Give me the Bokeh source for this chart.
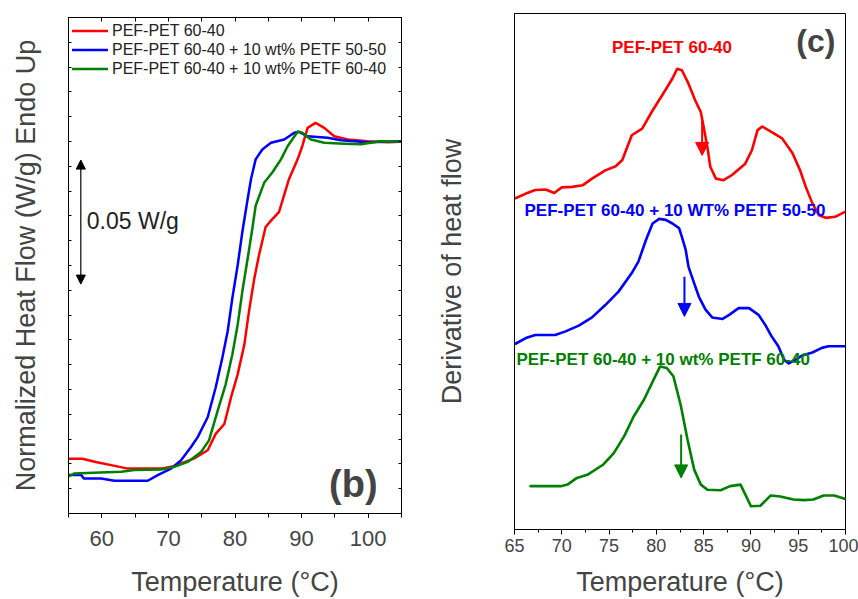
from bokeh.plotting import figure
from bokeh.models import (Range1d, LinearAxis, SingleIntervalTicker, FixedTicker,
                          Arrow, NormalHead, Label)
from bokeh.layouts import row, column
from bokeh.embed import file_html
from bokeh.resources import INLINE

FONT = "Liberation Sans"

# ---------------- Panel (b): normalized heat flow ----------------
b_names = ["PEF-PET 60-40",
           "PEF-PET 60-40 + 10 wt% PETF 50-50",
           "PEF-PET 60-40 + 10 wt% PETF 60-40"]

b_T_red = [55.1, 57.1, 59.1, 61.4, 63.9, 68.9, 70.8, 73.8, 75.9, 77.1, 78.4,
           79.4, 80.4, 81.4, 82.1, 82.9, 83.6, 84.6, 85.4, 86.6, 86.9, 88.1,
           89.4, 90.1, 90.9, 92.1, 93.4, 94.9, 96.9, 99.9, 102.9, 104.9]
b_y_red = [0.0221, 0.0221, 0.0208, 0.0195, 0.0181, 0.0181, 0.0191, 0.0221,
           0.0255, 0.0321, 0.0361, 0.0468, 0.0561, 0.0681, 0.0815, 0.0948,
           0.1041, 0.1155, 0.1181, 0.1215, 0.1241, 0.1348, 0.1428, 0.1481,
           0.1555, 0.1575, 0.1555, 0.1521, 0.1508, 0.1501, 0.1497, 0.1499]

b_T_blue = [55.1, 56.9, 57.3, 59.9, 61.9, 66.9, 68.4, 70.4, 71.9, 73.4, 74.4,
            75.9, 77.1, 78.1, 78.9, 79.6, 80.4, 81.1, 81.9, 82.4, 83.1, 84.1,
            85.4, 87.4, 88.9, 89.6, 90.9, 93.9, 95.9, 99.9, 104.9]
b_y_blue = [0.0155, 0.0155, 0.0141, 0.0141, 0.0132, 0.0132, 0.0155, 0.0181,
            0.0215, 0.0268, 0.0308, 0.0388, 0.0508, 0.0628, 0.0735, 0.0868,
            0.1001, 0.1135, 0.1268, 0.1348, 0.1428, 0.1468, 0.1495, 0.1508,
            0.1535, 0.1539, 0.1521, 0.1515, 0.1505, 0.1497, 0.1501]

b_T_green = [55.1, 55.8, 58.8, 62.9, 64.9, 68.9, 70.9, 72.9, 74.9, 76.1, 77.4,
             78.6, 79.6, 80.4, 81.1, 81.9, 82.6, 83.1, 84.4, 85.6, 86.9, 87.9,
             89.4, 90.1, 91.4, 93.4, 96.4, 98.9, 101.9, 104.9]
b_y_green = [0.0151, 0.0161, 0.0164, 0.0168, 0.0175, 0.0177, 0.0188, 0.0208,
             0.0248, 0.0295, 0.0415, 0.0521, 0.0641, 0.0761, 0.0895, 0.1028,
             0.1148, 0.1241, 0.1335, 0.1375, 0.1428, 0.1481, 0.1539, 0.1535,
             0.1508, 0.1495, 0.1491, 0.1489, 0.1501, 0.1499]

b_scale_T = 56.85
b_scale_y = [0.0925, 0.1425]   # 0.05 W/g scale bar

# ---------------- Panel (c): derivative of heat flow ----------------
c_names = ["PEF-PET 60-40",
           "PEF-PET 60-40 + 10 WT% PETF 50-50",
           "PEF-PET 60-40 + 10 wt% PETF 60-40"]

c_T_red = [65.1, 66.2, 67.2, 68.3, 69.2, 70.0, 71.1, 72.2, 73.2, 74.6, 75.7,
           76.4, 77.4, 78.5, 79.6, 80.6, 81.7, 82.2, 82.7, 83.4, 84.1, 84.7,
           85.0, 85.4, 85.7, 86.3, 87.1, 88.0, 89.4, 90.1, 90.7, 91.2, 92.2,
           93.3, 94.4, 95.2, 95.8, 96.5, 97.2, 97.9, 98.9, 100.0]
c_y_red = [64.2, 65.1, 65.8, 65.9, 65.2, 66.3, 66.4, 66.7, 68.0, 69.6, 70.4,
           71.6, 76.4, 77.7, 81.2, 84.1, 87.4, 89.3, 89.0, 86.4, 83.2, 80.9,
           78.0, 74.1, 70.3, 68.0, 67.7, 68.7, 70.9, 73.5, 77.4, 78.1, 77.0,
           75.8, 72.9, 69.6, 66.4, 63.2, 60.9, 60.4, 60.6, 61.6]

c_T_blue = [65.1, 66.2, 67.2, 69.3, 70.4, 71.8, 73.2, 74.6, 76.0, 77.4, 78.1,
            78.9, 79.6, 80.3, 81.0, 81.7, 82.4, 82.7, 83.1, 83.4, 84.0, 84.5,
            85.2, 85.9, 87.0, 87.7, 88.7, 89.8, 90.8, 91.5, 92.2, 92.9, 93.5,
            94.0, 94.7, 95.4, 96.5, 97.5, 98.2, 100.0]
c_y_blue = [36.0, 37.1, 37.7, 37.7, 38.4, 39.5, 41.1, 43.5, 46.1, 49.7, 51.9,
            56.1, 59.3, 60.2, 60.0, 59.3, 58.4, 56.7, 54.2, 50.9, 47.7, 45.1,
            42.6, 41.1, 40.8, 41.6, 42.9, 42.9, 41.6, 39.7, 37.4, 35.5, 32.9,
            32.2, 32.9, 33.7, 34.3, 35.2, 35.5, 35.5]

c_T_green = [66.7, 69.9, 70.6, 71.6, 72.7, 74.4, 75.5, 76.6, 77.6, 78.7, 79.7,
             80.4, 81.1, 81.8, 82.6, 83.3, 84.0, 84.7, 85.4, 86.8, 87.8, 88.9,
             89.4, 90.0, 91.0, 92.1, 93.1, 94.5, 95.6, 96.6, 97.7, 98.8, 100.0]
c_y_green = [8.4, 8.4, 8.7, 10.0, 10.6, 12.6, 14.8, 18.1, 21.9, 25.2, 29.0,
             31.6, 31.3, 29.7, 23.9, 17.4, 11.6, 8.7, 7.7, 7.6, 8.4, 8.7, 6.8,
             4.5, 4.6, 6.6, 6.4, 5.8, 5.7, 5.8, 6.6, 6.6, 5.9]

# Tg arrows (x, y_start, y_end)
c_arrow_T = [84.84, 82.97, 82.62]
c_arrow_y0 = [79.3, 49.0, 18.4]
c_arrow_y1 = [72.5, 41.3, 10.0]

COLORS = ["#ff0000", "#0000ff", "#008000"]

# ================= Figure (b) =================
p1 = figure(width=430, height=599, x_range=Range1d(55, 105),
            y_range=Range1d(0, 0.2), output_backend="svg",
            toolbar_location=None, min_border_left=68, min_border_right=29,
            min_border_top=17, min_border_bottom=82)
p1.xgrid.visible = False
p1.ygrid.visible = False
p1.outline_line_color = "black"
p1.background_fill_color = "white"
p1.border_fill_color = "white"

xa = p1.xaxis[0]
xa.ticker = SingleIntervalTicker(interval=10, num_minor_ticks=2)
xa.major_tick_in = 0
xa.major_tick_out = 4
xa.minor_tick_in = 0
xa.minor_tick_out = 4
xa.major_label_text_font = FONT
xa.major_label_text_font_size = "22px"
xa.major_label_standoff = 13
xa.axis_label = "Temperature (°C)"
xa.axis_label_text_font = FONT
xa.axis_label_text_font_size = "27px"
xa.axis_label_text_font_style = "normal"
xa.axis_label_standoff = 18

ya = p1.yaxis[0]
ya.ticker = FixedTicker(ticks=[], minor_ticks=[i / 100 for i in range(21)])
ya.minor_tick_in = 3
ya.minor_tick_out = 0
ya.axis_label = "Normalized Heat Flow (W/g) Endo Up"
ya.axis_label_text_font = FONT
ya.axis_label_text_font_size = "27px"
ya.axis_label_text_font_style = "normal"
ya.axis_label_standoff = 28

top_ax = LinearAxis(ticker=FixedTicker(ticks=[], minor_ticks=list(range(55, 106, 5))),
                    minor_tick_in=4, minor_tick_out=0)
p1.add_layout(top_ax, "above")
right_ax = LinearAxis(ticker=FixedTicker(ticks=[], minor_ticks=[i / 100 for i in range(21)]),
                      minor_tick_in=3, minor_tick_out=0)
p1.add_layout(right_ax, "right")

for T, y, c, n in [(b_T_red, b_y_red, COLORS[0], b_names[0]),
                   (b_T_blue, b_y_blue, COLORS[1], b_names[1]),
                   (b_T_green, b_y_green, COLORS[2], b_names[2])]:
    p1.line(T, y, line_color=c, line_width=2.5, line_join="round",
            line_cap="round", legend_label=n)

lg = p1.legend[0]
lg.location = "top_left"
lg.margin = 4
lg.padding = 3
lg.spacing = 0
lg.glyph_width = 36
lg.glyph_height = 19
lg.label_height = 19
lg.label_standoff = 4
lg.label_text_font = FONT
lg.label_text_font_size = "16px"
lg.label_text_color = "#222222"
lg.border_line_color = None
lg.background_fill_alpha = 0

p1.add_layout(Arrow(x_start=b_scale_T, y_start=b_scale_y[0],
                    x_end=b_scale_T, y_end=b_scale_y[1], line_width=1.2,
                    start=NormalHead(size=9, fill_color="black", line_color="black"),
                    end=NormalHead(size=9, fill_color="black", line_color="black")))
p1.add_layout(Label(x=57.75, y=0.118, text="0.05 W/g", text_font=FONT,
                    text_font_size="23px", text_align="left",
                    text_baseline="middle", text_color="#222222"))
p1.add_layout(Label(x=97.76, y=0.012, text="(b)", text_font=FONT,
                    text_font_size="38px", text_font_style="bold",
                    text_align="center", text_baseline="middle"))

# ================= Figure (c) =================
p2 = figure(width=428, height=599, x_range=Range1d(65, 100),
            y_range=Range1d(0, 100), output_backend="svg",
            toolbar_location=None, min_border_left=84, min_border_right=13,
            min_border_top=13, min_border_bottom=69)
p2.xgrid.visible = False
p2.ygrid.visible = False
p2.outline_line_color = "black"
p2.background_fill_color = "white"
p2.border_fill_color = "white"

xb = p2.xaxis[0]
xb.ticker = SingleIntervalTicker(interval=5, num_minor_ticks=2)
xb.major_tick_in = 0
xb.major_tick_out = 5
xb.minor_tick_in = 0
xb.minor_tick_out = 3
xb.major_label_text_font = FONT
xb.major_label_text_font_size = "18px"
xb.major_label_standoff = 4
xb.axis_label = "Temperature (°C)"
xb.axis_label_text_font = FONT
xb.axis_label_text_font_size = "27px"
xb.axis_label_text_font_style = "normal"
xb.axis_label_standoff = 12

yb = p2.yaxis[0]
yb.ticker = FixedTicker(ticks=[])
yb.major_tick_line_color = None
yb.minor_tick_line_color = None
yb.axis_label = "Derivative of heat flow"
yb.axis_label_text_font = FONT
yb.axis_label_text_font_size = "27px"
yb.axis_label_text_font_style = "normal"
yb.axis_label_standoff = 48

for T, y, c in [(c_T_red, c_y_red, COLORS[0]),
                (c_T_blue, c_y_blue, COLORS[1]),
                (c_T_green, c_y_green, COLORS[2])]:
    p2.line(T, y, line_color=c, line_width=2.6, line_join="round",
            line_cap="round")

for i in range(3):
    p2.add_layout(Arrow(x_start=c_arrow_T[i], y_start=c_arrow_y0[i],
                        x_end=c_arrow_T[i], y_end=c_arrow_y1[i],
                        line_color=COLORS[i], line_width=2,
                        end=NormalHead(size=13, fill_color=COLORS[i],
                                       line_color=COLORS[i])))

p2.add_layout(Label(x=81.65, y=93.4, text=c_names[0], text_font=FONT,
                    text_font_size="17px", text_font_style="bold",
                    text_color=COLORS[0], text_align="center",
                    text_baseline="middle"))
p2.add_layout(Label(x=66.06, y=61.9, text=c_names[1], text_font=FONT,
                    text_font_size="17px", text_font_style="bold",
                    text_color=COLORS[1], text_align="left",
                    text_baseline="middle"))
p2.add_layout(Label(x=65.21, y=32.9, text=c_names[2], text_font=FONT,
                    text_font_size="17px", text_font_style="bold",
                    text_color=COLORS[2], text_align="left",
                    text_baseline="middle"))
p2.add_layout(Label(x=96.87, y=94.6, text="(c)", text_font=FONT,
                    text_font_size="32px", text_font_style="bold",
                    text_align="center", text_baseline="middle"))

layout = row(column(p1), column(p2))
open("out.html", "w").write(file_html(layout, INLINE))
